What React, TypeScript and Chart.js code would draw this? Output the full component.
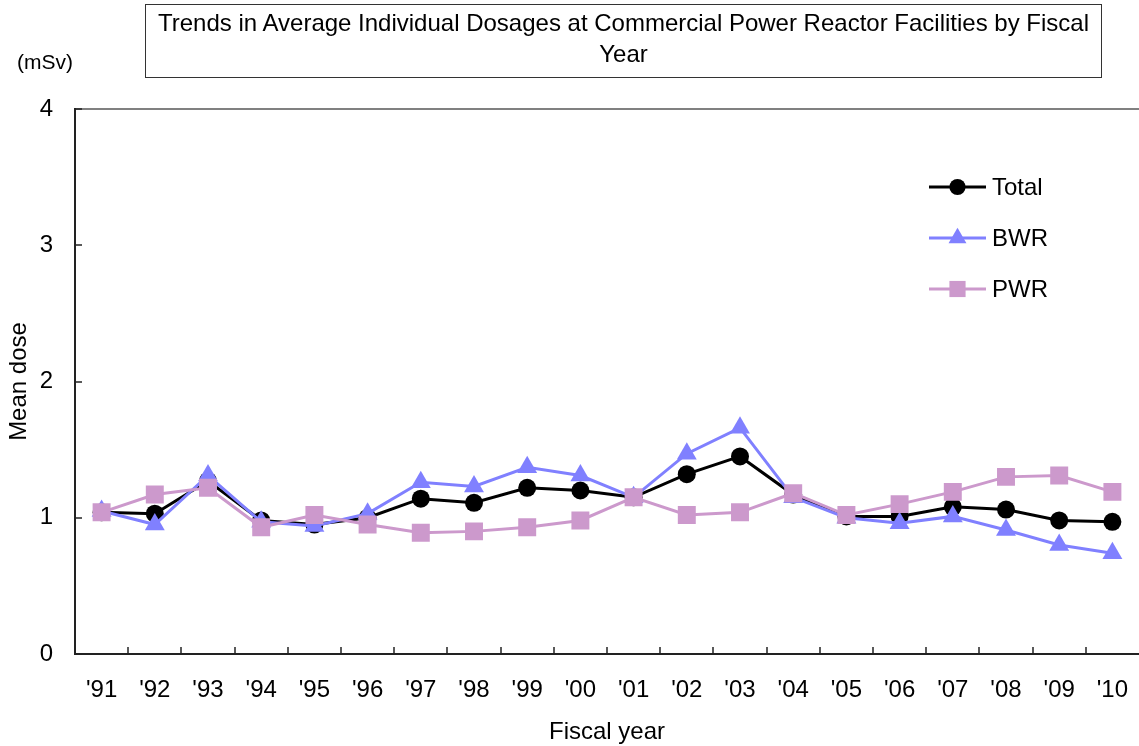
import React, { useEffect, useRef } from "react";
import { Chart, registerables } from "chart.js";

Chart.register(...registerables);

const years = ["'91", "'92", "'93", "'94", "'95", "'96", "'97", "'98", "'99", "'00", "'01", "'02", "'03", "'04", "'05", "'06", "'07", "'08", "'09", "'10"];
const totalDose = [1.04, 1.03, 1.27, 0.98, 0.95, 1.0, 1.14, 1.11, 1.22, 1.2, 1.15, 1.32, 1.45, 1.17, 1.01, 1.01, 1.08, 1.06, 0.98, 0.97];
const bwrDose = [1.05, 0.95, 1.31, 0.97, 0.94, 1.03, 1.26, 1.23, 1.37, 1.31, 1.15, 1.47, 1.66, 1.15, 1.0, 0.96, 1.01, 0.91, 0.8, 0.74];
const pwrDose = [1.04, 1.17, 1.22, 0.93, 1.02, 0.95, 0.89, 0.9, 0.93, 0.98, 1.15, 1.02, 1.04, 1.18, 1.02, 1.1, 1.19, 1.3, 1.31, 1.19];
const yMin = 0;
const yMax = 4;

const FONT = "'Liberation Sans', Arial, sans-serif";
const W = 1139;
const H = 746;

const stretchPlugin = {
  id: "stretchRight",
  afterLayout(chart: any) {
    const x = chart.scales.x;
    if (!x) return;
    chart.chartArea.right = chart.width;
    chart.chartArea.width = chart.chartArea.right - chart.chartArea.left;
    x.right = chart.width;
    x.width = x.right - x.left;
    x.paddingRight = 0;
    x.configure();
  },
};

const axesPlugin = {
  id: "customAxes",
  beforeDatasetsDraw(chart: any) {
    const { ctx, chartArea, scales } = chart;
    const { left, right, top, bottom } = chartArea;
    ctx.save();
    ctx.strokeStyle = "#808080";
    ctx.lineWidth = 2;
    ctx.beginPath();
    ctx.moveTo(left, top);
    ctx.lineTo(right, top);
    ctx.stroke();
    ctx.strokeStyle = "#222";
    ctx.lineWidth = 2;
    ctx.beginPath();
    ctx.moveTo(left, top - 1);
    ctx.lineTo(left, bottom);
    ctx.lineTo(right, bottom);
    ctx.stroke();
    ctx.lineWidth = 1.5;
    const y = scales.y;
    y.ticks.forEach((t: any) => {
      const py = Math.round(y.getPixelForValue(t.value));
      ctx.beginPath();
      ctx.moveTo(left, py);
      ctx.lineTo(left + 7, py);
      ctx.stroke();
    });
    const x = scales.x;
    for (let i = 1; i < years.length; i++) {
      const px = Math.round((x.getPixelForTick(i - 1) + x.getPixelForTick(i)) / 2);
      ctx.beginPath();
      ctx.moveTo(px, bottom);
      ctx.lineTo(px, bottom - 7);
      ctx.stroke();
    }
    ctx.restore();
  },
};

function drawMarker(ctx: CanvasRenderingContext2D, style: string, r: number, x: number, y: number, color: string) {
  ctx.fillStyle = color;
  ctx.beginPath();
  if (style === "circle") {
    ctx.arc(x, y, r, 0, Math.PI * 2);
  } else if (style === "triangle") {
    ctx.moveTo(x, y - r);
    ctx.lineTo(x + r * 0.866, y + r * 0.5);
    ctx.lineTo(x - r * 0.866, y + r * 0.5);
    ctx.closePath();
  } else {
    const s = r * Math.SQRT1_2;
    ctx.rect(x - s, y - s, 2 * s, 2 * s);
  }
  ctx.fill();
}

const legendPlugin = {
  id: "insideLegend",
  afterDraw(chart: any) {
    const { ctx } = chart;
    const items = chart.data.datasets;
    const x0 = 929;
    const x1 = 986;
    const startY = 187;
    const gap = 51;
    ctx.save();
    items.forEach((ds: any, i: number) => {
      const yy = startY + i * gap;
      ctx.strokeStyle = ds.borderColor;
      ctx.lineWidth = ds.borderWidth;
      ctx.beginPath();
      ctx.moveTo(x0, yy);
      ctx.lineTo(x1, yy);
      ctx.stroke();
      drawMarker(ctx, ds.pointStyle, ds.pointRadius * 0.9, (x0 + x1) / 2, yy, ds.pointBackgroundColor);
      ctx.fillStyle = "#000";
      ctx.font = `24px ${FONT}`;
      ctx.textBaseline = "middle";
      ctx.textAlign = "left";
      ctx.fillText(ds.label, 992, yy + 1);
    });
    ctx.restore();
  },
};

export default function App() {
  const canvasRef = useRef<HTMLCanvasElement | null>(null);

  useEffect(() => {
    if (!canvasRef.current) return;
    const chart = new Chart(canvasRef.current, {
      type: "line",
      data: {
        labels: years,
        datasets: [
          {
            label: "Total",
            data: totalDose,
            borderColor: "#000000",
            backgroundColor: "#000000",
            pointBackgroundColor: "#000000",
            pointBorderColor: "#000000",
            borderWidth: 3,
            pointStyle: "circle",
            pointRadius: 9,
            pointBorderWidth: 0,
            order: 3,
          },
          {
            label: "BWR",
            data: bwrDose,
            borderColor: "#8080FF",
            backgroundColor: "#8080FF",
            pointBackgroundColor: "#8080FF",
            pointBorderColor: "#8080FF",
            borderWidth: 3,
            pointStyle: "triangle",
            pointRadius: 11.5,
            pointBorderWidth: 0,
            order: 2,
          },
          {
            label: "PWR",
            data: pwrDose,
            borderColor: "#CC99CC",
            backgroundColor: "#CC99CC",
            pointBackgroundColor: "#CC99CC",
            pointBorderColor: "#CC99CC",
            borderWidth: 3,
            pointStyle: "rect",
            pointRadius: 12.7,
            pointBorderWidth: 0,
            order: 1,
          },
        ],
      },
      options: {
        animation: false,
        responsive: false,
        maintainAspectRatio: false,
        devicePixelRatio: 1,
        layout: { padding: { top: 109, right: 0, left: 0, bottom: 0 } },
        plugins: {
          legend: { display: false },
          title: { display: false },
          tooltip: { enabled: false },
        },
        scales: {
          x: {
            type: "category",
            offset: true,
            grid: { display: false, offset: true },
            border: { display: false },
            ticks: {
              color: "#000",
              font: { family: FONT, size: 24 },
              padding: 14,
              maxRotation: 0,
              autoSkip: false,
            },
            title: {
              display: true,
              text: "Fiscal year",
              color: "#000",
              font: { family: FONT, size: 24 },
              padding: { top: 0, bottom: -1 },
            },
            afterFit: (scale: any) => {
              scale.height = 92;
              scale.paddingLeft = 0;
              scale.paddingRight = 0;
            },
          },
          y: {
            min: yMin,
            max: yMax,
            grid: { display: false },
            border: { display: false },
            ticks: {
              stepSize: 1,
              color: "#000",
              font: { family: FONT, size: 24 },
              padding: 14,
            },
            title: {
              display: true,
              text: "Mean dose",
              color: "#000",
              font: { family: FONT, size: 24 },
              padding: { top: 5, bottom: 0 },
            },
            afterFit: (scale: any) => {
              scale.width = 75;
              scale.paddingTop = 0;
              scale.paddingBottom = 0;
            },
          },
        },
      },
      plugins: [stretchPlugin, axesPlugin, legendPlugin],
    } as any);
    return () => chart.destroy();
  }, []);

  return (
    <div style={{ position: "fixed", left: 0, top: 0, width: W, height: H, background: "#fff", fontFamily: FONT }}>
      <canvas ref={canvasRef} width={W} height={H} style={{ position: "absolute", left: 0, top: 0, width: W, height: H }} />
      <div
        style={{
          position: "absolute",
          left: 145,
          top: 4,
          width: 955,
          height: 70,
          border: "1px solid #333",
          textAlign: "center",
          fontSize: 24,
          lineHeight: "31px",
          paddingTop: 2,
          boxSizing: "content-box",
          whiteSpace: "nowrap",
          color: "#000",
        }}
      >
        Trends in Average Individual Dosages at Commercial Power Reactor Facilities by Fiscal
        <br />
        Year
      </div>
      <div style={{ position: "absolute", left: 17, top: 50, fontSize: 21, color: "#000", lineHeight: "24px" }}>(mSv)</div>
    </div>
  );
}
